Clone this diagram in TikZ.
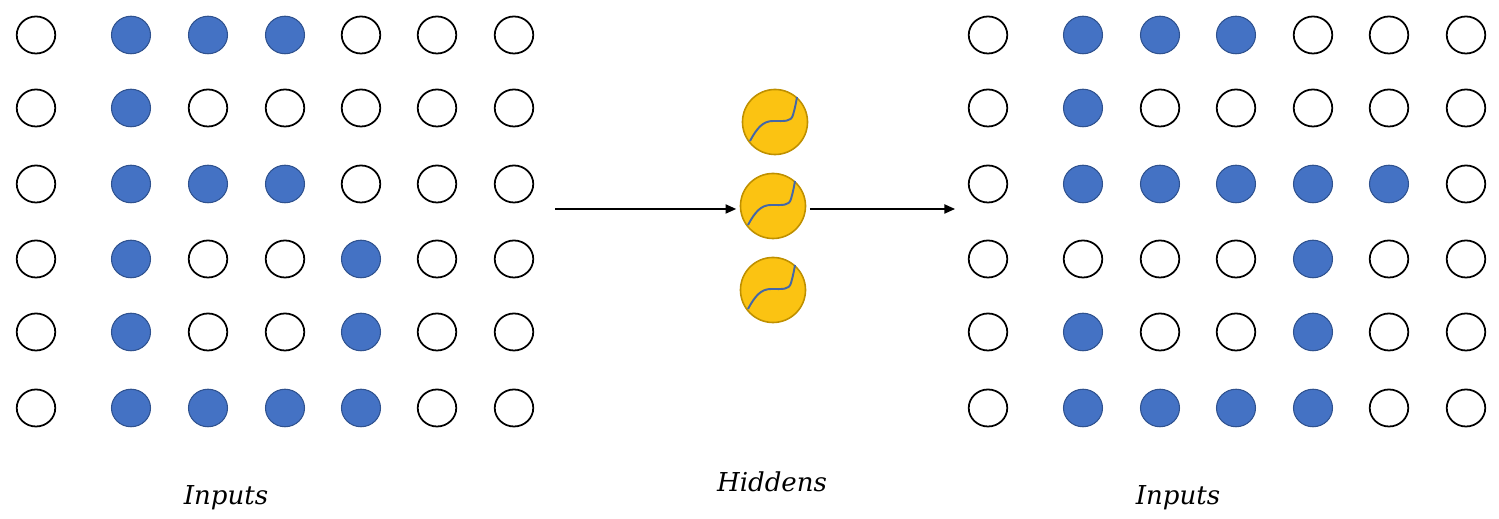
\documentclass[tikz,border=0pt]{standalone}
\usepackage{fontspec}
\setmainfont{DejaVu Serif}
\usetikzlibrary{shapes.geometric, arrows.meta}
\definecolor{cellblue}{HTML}{4472C4}
\definecolor{cellline}{HTML}{2F528F}
\definecolor{unitgold}{HTML}{FBC312}
\definecolor{unitline}{HTML}{BF9000}
\definecolor{curveblue}{HTML}{4467A8}
\tikzset{
	off/.style={ellipse, minimum width=0.385cm, minimum height=0.37cm, inner sep=0pt, draw=black, line width=0.5pt, fill=white},
	on/.style={ellipse, minimum width=0.39cm, minimum height=0.375cm, inner sep=0pt, draw=cellline, line width=0.3pt, fill=cellblue},
	unit/.style={circle, minimum size=0.65cm, inner sep=0pt, draw=unitline, line width=0.45pt, fill=unitgold},
	act/.style={draw=curveblue, line width=0.55pt},
	conn/.style={-{Triangle[length=3pt, width=2.6pt]}, line width=0.4pt},
	caption/.style={anchor=base, font=\fontsize{7.4pt}{9pt}\selectfont\itshape}
}
\begin{document}
\begin{tikzpicture}[x=0.01cm, y=-0.01cm]
	\useasboundingbox (0,0) rectangle (1499,519);
	\node (a01) at (36,35)[off]{};
	\node (a02) at (131,35)[on]{};
	\node (a03) at (208,35)[on]{};
	\node (a04) at (285,35)[on]{};
	\node (a05) at (361,35)[off]{};
	\node (a06) at (437,35)[off]{};
	\node (a07) at (514,35)[off]{};
	\node (a08) at (36,108)[off]{};
	\node (a09) at (131,108)[on]{};
	\node (a10) at (208,108)[off]{};
	\node (a11) at (285,108)[off]{};
	\node (a12) at (361,108)[off]{};
	\node (a13) at (437,108)[off]{};
	\node (a14) at (514,108)[off]{};
	\node (a15) at (36,184)[off]{};
	\node (a16) at (131,184)[on]{};
	\node (a17) at (208,184)[on]{};
	\node (a18) at (285,184)[on]{};
	\node (a19) at (361,184)[off]{};
	\node (a20) at (437,184)[off]{};
	\node (a21) at (514,184)[off]{};
	\node (a22) at (36,259)[off]{};
	\node (a23) at (131,259)[on]{};
	\node (a24) at (208,259)[off]{};
	\node (a25) at (285,259)[off]{};
	\node (a26) at (361,259)[on]{};
	\node (a27) at (437,259)[off]{};
	\node (a28) at (514,259)[off]{};
	\node (a29) at (36,332)[off]{};
	\node (a30) at (131,332)[on]{};
	\node (a31) at (208,332)[off]{};
	\node (a32) at (285,332)[off]{};
	\node (a33) at (361,332)[on]{};
	\node (a34) at (437,332)[off]{};
	\node (a35) at (514,332)[off]{};
	\node (a36) at (36,408)[off]{};
	\node (a37) at (131,408)[on]{};
	\node (a38) at (208,408)[on]{};
	\node (a39) at (285,408)[on]{};
	\node (a40) at (361,408)[on]{};
	\node (a41) at (437,408)[off]{};
	\node (a42) at (514,408)[off]{};
	\node (b01) at (988,35)[off]{};
	\node (b02) at (1083,35)[on]{};
	\node (b03) at (1160,35)[on]{};
	\node (b04) at (1236,35)[on]{};
	\node (b05) at (1313,35)[off]{};
	\node (b06) at (1389,35)[off]{};
	\node (b07) at (1466,35)[off]{};
	\node (b08) at (988,108)[off]{};
	\node (b09) at (1083,108)[on]{};
	\node (b10) at (1160,108)[off]{};
	\node (b11) at (1236,108)[off]{};
	\node (b12) at (1313,108)[off]{};
	\node (b13) at (1389,108)[off]{};
	\node (b14) at (1466,108)[off]{};
	\node (b15) at (988,184)[off]{};
	\node (b16) at (1083,184)[on]{};
	\node (b17) at (1160,184)[on]{};
	\node (b18) at (1236,184)[on]{};
	\node (b19) at (1313,184)[on]{};
	\node (b20) at (1389,184)[on]{};
	\node (b21) at (1466,184)[off]{};
	\node (b22) at (988,259)[off]{};
	\node (b23) at (1083,259)[off]{};
	\node (b24) at (1160,259)[off]{};
	\node (b25) at (1236,259)[off]{};
	\node (b26) at (1313,259)[on]{};
	\node (b27) at (1389,259)[off]{};
	\node (b28) at (1466,259)[off]{};
	\node (b29) at (988,332)[off]{};
	\node (b30) at (1083,332)[on]{};
	\node (b31) at (1160,332)[off]{};
	\node (b32) at (1236,332)[off]{};
	\node (b33) at (1313,332)[on]{};
	\node (b34) at (1389,332)[off]{};
	\node (b35) at (1466,332)[off]{};
	\node (b36) at (988,408)[off]{};
	\node (b37) at (1083,408)[on]{};
	\node (b38) at (1160,408)[on]{};
	\node (b39) at (1236,408)[on]{};
	\node (b40) at (1313,408)[on]{};
	\node (b41) at (1389,408)[off]{};
	\node (b42) at (1466,408)[off]{};
	\node (h01) at (775,122)[unit]{};
	\node (h02) at (773,206)[unit]{};
	\node (h03) at (773,290)[unit]{};
	\draw[act] ([shift={(-25,19)}]h01.center) .. controls +(7,-13) and +(-10,0) .. ([shift={(-2,-1)}]h01.center) .. controls +(12,0) and +(-2,7) .. ([shift={(18,-7)}]h01.center) .. controls +(2,-7) and +(-1,6) .. ([shift={(22,-25)}]h01.center);
	\draw[act] ([shift={(-25,19)}]h02.center) .. controls +(7,-13) and +(-10,0) .. ([shift={(-2,-1)}]h02.center) .. controls +(12,0) and +(-2,7) .. ([shift={(18,-7)}]h02.center) .. controls +(2,-7) and +(-1,6) .. ([shift={(22,-25)}]h02.center);
	\draw[act] ([shift={(-25,19)}]h03.center) .. controls +(7,-13) and +(-10,0) .. ([shift={(-2,-1)}]h03.center) .. controls +(12,0) and +(-2,7) .. ([shift={(18,-7)}]h03.center) .. controls +(2,-7) and +(-1,6) .. ([shift={(22,-25)}]h03.center);
	\coordinate (src) at (555,209);
	\coordinate (dst) at (955,209);
	\draw[conn, shorten >=1pt] (src) -- (h02.west |- src);
	\draw[conn, shorten <=1pt] (h02.east |- dst) -- (dst);
	\node (t01) at (226,505)[caption]{Inputs};
	\node (t02) at (772,492)[caption]{Hiddens};
	\node (t03) at (1178,505)[caption]{Inputs};
\end{tikzpicture}
\end{document}
